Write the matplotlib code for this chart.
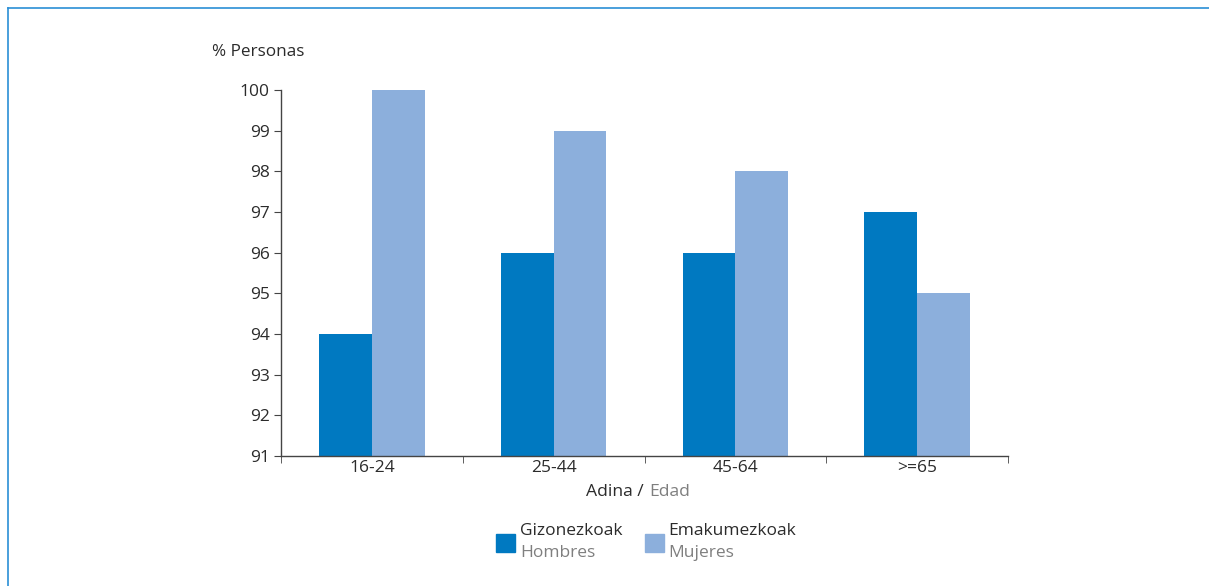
import matplotlib.pyplot as plt
from matplotlib.patches import Rectangle
import numpy as np

plt.rcParams['font.family'] = ['Open Sans', 'DejaVu Sans']

categorias = ['16-24', '25-44', '45-64', '>=65']
hombres = [94, 96, 96, 97]
mujeres = [100, 99, 98, 95]
yticks = [91, 92, 93, 94, 95, 96, 97, 98, 99, 100]

c_hombres = '#0079c1'
c_mujeres = '#8cafdc'
c_texto = '#2b2b2b'
c_gris = '#7f7f7f'

fig = plt.figure(figsize=(12.09, 5.86), dpi=100)

# marco azul arriba / izquierda
fig.add_artist(plt.Line2D([8 / 1209, 1], [1 - 8 / 586, 1 - 8 / 586], color='#2a8fd6', lw=1.2))
fig.add_artist(plt.Line2D([8 / 1209, 8 / 1209], [0, 1 - 8 / 586], color='#2a8fd6', lw=1.2))

ax = fig.add_axes([281 / 1209, 1 - 456 / 586, 727 / 1209, 366 / 586])

x = np.arange(len(categorias))
w = 0.29
ax.bar(x - w / 2, hombres, w, color=c_hombres, bottom=0)
ax.bar(x + w / 2, mujeres, w, color=c_mujeres, bottom=0)

ax.set_ylim(91, 100)
ax.set_xlim(-0.5, len(categorias) - 0.5)
ax.set_yticks(yticks)
ax.set_xticks(x)
ax.set_xticklabels(categorias)
ax.set_xticks(np.arange(len(categorias) + 1) - 0.5, minor=True)

for s in ['top', 'right']:
    ax.spines[s].set_visible(False)
for s in ['left', 'bottom']:
    ax.spines[s].set_color('#444444')
    ax.spines[s].set_linewidth(1)

ax.tick_params(axis='y', direction='out', length=5, color='#444444', labelsize=12.5, labelcolor=c_texto, pad=3)
ax.tick_params(axis='x', which='major', length=0, labelsize=12.5, labelcolor=c_texto, pad=3)
ax.tick_params(axis='x', which='minor', direction='out', length=5, color='#444444')

fig.text(212 / 1209, 1 - 52 / 586, '% Personas', fontsize=12.3, color=c_texto, va='center', ha='left')

# titulo eje x
fig.text(648 / 1209, 1 - 492 / 586, 'Adina / ', fontsize=12.6, color=c_texto, va='center', ha='right')
fig.text(649 / 1209, 1 - 492 / 586, 'Edad', fontsize=12.6, color=c_gris, va='center', ha='left')

# leyenda
fig.add_artist(Rectangle((496 / 1209, 1 - 552 / 586), 19 / 1209, 18 / 586, color=c_hombres, transform=fig.transFigure))
fig.add_artist(Rectangle((645 / 1209, 1 - 552 / 586), 19 / 1209, 18 / 586, color=c_mujeres, transform=fig.transFigure))
fig.text(520 / 1209, 1 - 531 / 586, 'Gizonezkoak', fontsize=12.5, color=c_texto, va='center', ha='left')
fig.text(520 / 1209, 1 - 553 / 586, 'Hombres', fontsize=12.5, color=c_gris, va='center', ha='left')
fig.text(668 / 1209, 1 - 531 / 586, 'Emakumezkoak', fontsize=12.5, color=c_texto, va='center', ha='left')
fig.text(668 / 1209, 1 - 553 / 586, 'Mujeres', fontsize=12.5, color=c_gris, va='center', ha='left')

fig.savefig('out.png', dpi=100, facecolor='white')
